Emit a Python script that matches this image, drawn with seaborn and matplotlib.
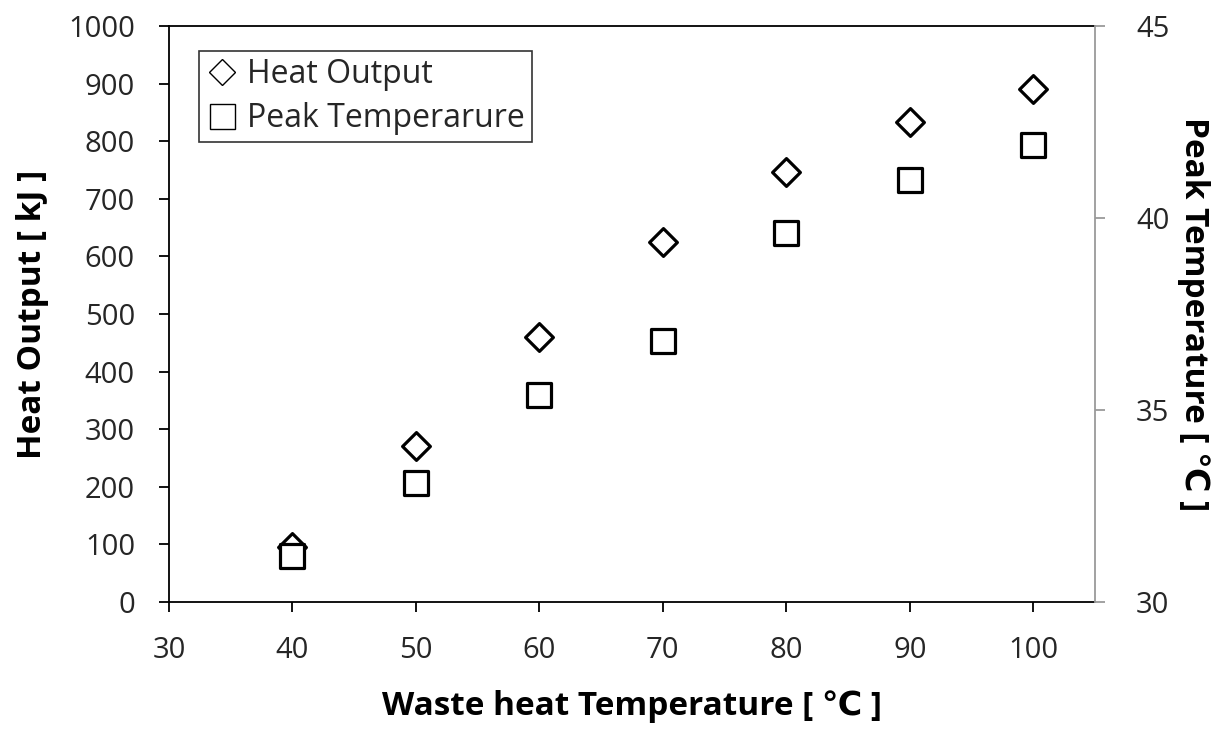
import matplotlib
matplotlib.use("Agg")
import matplotlib.pyplot as plt
from matplotlib.lines import Line2D
import seaborn as sns
import pandas as pd

# Measured data
waste_temp = [40, 50, 60, 70, 80, 90, 100]
heat_output = [95, 270, 460, 625, 747, 833, 890]
peak_temp = [31.2, 33.1, 35.4, 36.8, 39.6, 41.0, 41.9]

x_ticks = [30, 40, 50, 60, 70, 80, 90, 100]
left_ticks = list(range(0, 1001, 100))
right_ticks = [30, 35, 40, 45]

df = pd.DataFrame({"waste": waste_temp, "heat": heat_output, "peak": peak_temp})

sns.set_theme(style="white")
plt.rcParams["font.family"] = ["Open Sans", "DejaVu Sans"]
text_color = "#262626"

fig = plt.figure(figsize=(12.28, 7.29), dpi=100)
ax = fig.add_axes([0.1376, 0.1742, 0.7541, 0.7901])
ax2 = ax.twinx()

sns.scatterplot(data=df, x="waste", y="heat", ax=ax, marker="D", s=200,
                facecolor="white", edgecolor="black", linewidth=2.3, zorder=3)
sns.scatterplot(data=df, x="waste", y="peak", ax=ax2, marker="s", s=300,
                facecolor="white", edgecolor="black", linewidth=2.3, zorder=3)

ax.set_xlim(30, 105)
ax.set_ylim(0, 1000)
ax2.set_ylim(30, 45)
ax.set_xticks(x_ticks)
ax.set_yticks(left_ticks)
ax2.set_yticks(right_ticks)

for spine in ["left", "bottom", "top"]:
    ax.spines[spine].set_color("black")
    ax.spines[spine].set_linewidth(1.3)
ax.spines["right"].set_visible(False)
for spine in ["left", "bottom", "top"]:
    ax2.spines[spine].set_visible(False)
ax2.spines["right"].set_color("#9a9a9a")
ax2.spines["right"].set_linewidth(1.3)

ax.tick_params(axis="both", direction="out", length=7.5, width=1.3, color="black",
               labelsize=21, labelcolor=text_color, left=True, bottom=True)
ax.tick_params(axis="y", pad=17)
ax.tick_params(axis="x", pad=17)
ax2.tick_params(axis="y", direction="out", length=7.5, width=1.3, color="#9a9a9a",
                labelsize=21, labelcolor=text_color, pad=22, right=True)

ax.set_xlabel("Waste heat Temperature [ ℃ ]", fontsize=24, fontweight="bold",
              color="black", labelpad=18)
ax.set_ylabel("Heat Output [ kJ ]", fontsize=24, fontweight="bold",
              color="black", labelpad=14)
ax2.set_ylabel("Peak Temperature [ ℃ ]", fontsize=24, fontweight="bold",
               color="black", rotation=270, labelpad=29)

handles = [
    Line2D([], [], linestyle="none", marker="D", markersize=13,
           markerfacecolor="white", markeredgecolor="black", markeredgewidth=1.0),
    Line2D([], [], linestyle="none", marker="s", markersize=18,
           markerfacecolor="white", markeredgecolor="black", markeredgewidth=1.0),
]
leg = ax.legend(handles, ["Heat Output", "Peak Temperarure"], loc="upper left",
                bbox_to_anchor=(0.032, 0.957), fontsize=23, frameon=True,
                fancybox=False, edgecolor="black", handlelength=1.0,
                handletextpad=0.3, borderpad=0.22, labelspacing=0.34,
                borderaxespad=0.0)
leg.get_frame().set_linewidth(1.2)
for t in leg.get_texts():
    t.set_color(text_color)

fig.savefig("out.png", dpi=100)
